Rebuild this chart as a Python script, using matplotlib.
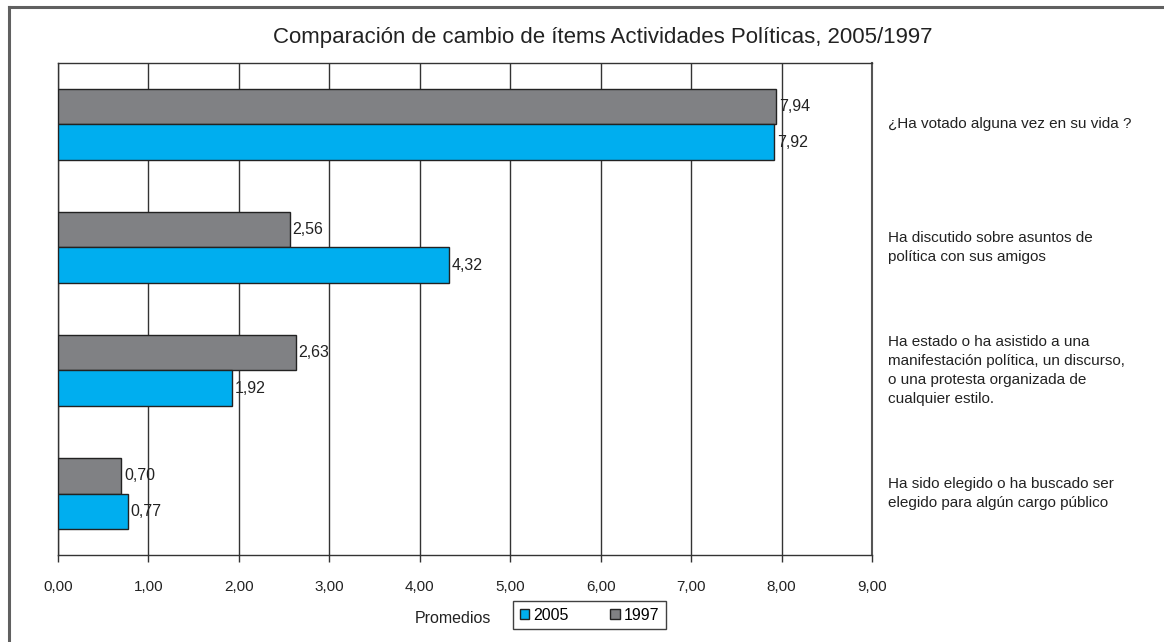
import numpy as np
import matplotlib.pyplot as plt
from matplotlib.lines import Line2D
from matplotlib.patches import Patch

plt.rcParams['font.family'] = ['Liberation Sans', 'DejaVu Sans']

# data
items = ['¿Ha votado alguna vez en su vida ?',
         'Ha discutido sobre asuntos de\npolítica con sus amigos',
         'Ha estado o ha asistido a una\nmanifestación política, un discurso,\no una protesta organizada de\ncualquier estilo.',
         'Ha sido elegido o ha buscado ser\nelegido para algún cargo público']
vals_2005 = [7.92, 4.32, 1.92, 0.77]
vals_1997 = [7.94, 2.56, 2.63, 0.70]
xticks = np.arange(0, 10, 1)

blue = '#00AEEF'
grey = '#808184'
edge = '#222222'

fig = plt.figure(figsize=(11.64, 6.42), dpi=100)
ax = fig.add_axes([0.0498, 0.1355, 0.6993, 0.7664])

y = np.arange(len(items))
h = 0.285
b97 = ax.barh(y - h / 2, vals_1997, height=h, color=grey, edgecolor=edge, linewidth=1, zorder=3)
b05 = ax.barh(y + h / 2, vals_2005, height=h, color=blue, edgecolor=edge, linewidth=1, zorder=3)

fmt = lambda v: f'{v:.2f}'.replace('.', ',')
for bars, vals in [(b97, vals_1997), (b05, vals_2005)]:
    for bar, v in zip(bars, vals):
        ax.annotate(fmt(v), (v, bar.get_y() + bar.get_height() / 2),
                    xytext=(2, 0), textcoords='offset points',
                    ha='left', va='center', fontsize=11.5, color='#222222', zorder=4)

ax.set_xlim(0, 9)
ax.set_ylim(len(items) - 0.5, -0.5)
ax.set_xticks(xticks)
ax.set_xticklabels([fmt(t) for t in xticks], fontsize=11, color='#222222')
ax.set_yticks([])
ax.tick_params(axis='x', direction='out', length=5, width=1, color='#333333', pad=13)
ax.grid(axis='x', color='#333333', linewidth=1, zorder=0)
for s in ['top', 'right', 'left', 'bottom']:
    ax.spines[s].set_color('#333333')
    ax.spines[s].set_linewidth(1)
ax.spines['right'].set_color('#555555')
ax.spines['right'].set_linewidth(1.5)

trans = ax.get_yaxis_transform()
for yi, lab in zip(y, items):
    ax.text(1.0197, yi, lab, transform=trans, ha='left', va='center',
            fontsize=11, color='#222222', linespacing=1.45)

fig.text(0.518, 0.941, 'Comparación de cambio de ítems Actividades Políticas, 2005/1997',
         ha='center', va='center', fontsize=16, color='#222222')

fig.text(0.4218, 0.037, 'Promedios', ha='right', va='center', fontsize=11.5, color='#222222')
handles = [Patch(facecolor=blue, edgecolor=edge), Patch(facecolor=grey, edgecolor=edge)]
leg = fig.legend(handles, ['2005', '1997'], loc='center', bbox_to_anchor=(0.5064, 0.042),
                 ncol=2, frameon=True, fancybox=False, edgecolor='#111111',
                 handlelength=0.6, handleheight=0.6, handletextpad=0.25,
                 columnspacing=2.6, borderpad=0.4, borderaxespad=0, fontsize=11.5)
leg.get_frame().set_linewidth(1)

# outer border (top and left edges)
fig.add_artist(Line2D([0.0077, 1.0], [0.9885, 0.9885], color='#606060', lw=2.2, transform=fig.transFigure))
fig.add_artist(Line2D([0.0077, 0.0077], [0.0, 0.9885], color='#606060', lw=2.2, transform=fig.transFigure))

fig.savefig('out.png', dpi=100)
